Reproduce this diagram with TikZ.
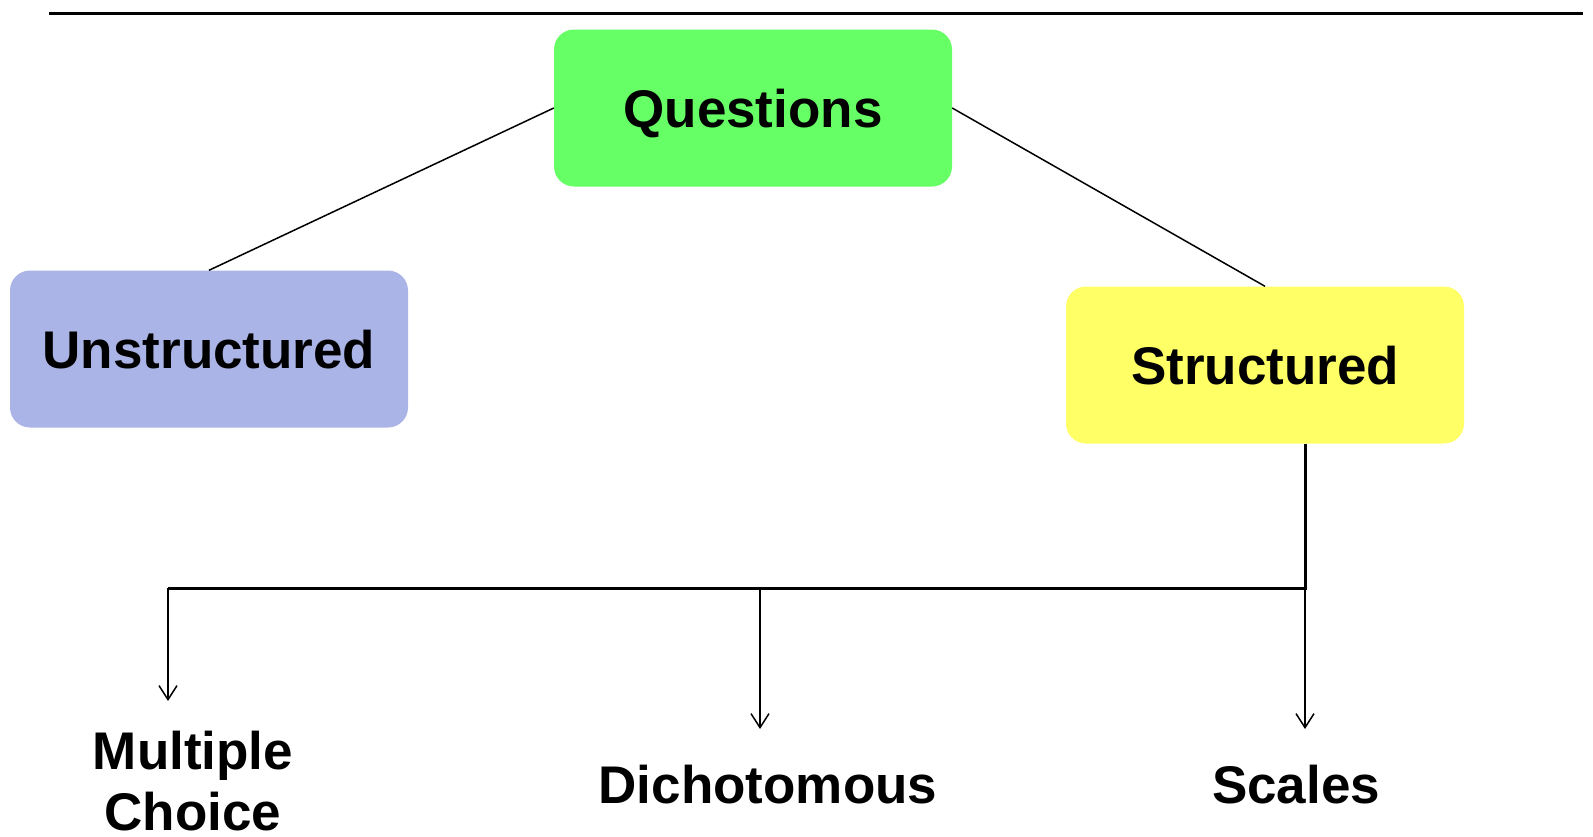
\documentclass[tikz,border=0pt]{standalone}
\usepackage{fontspec}
\setmainfont{Liberation Sans}
\usetikzlibrary{arrows.meta}

\definecolor{qgreen}{RGB}{102,255,102}
\definecolor{ublue}{RGB}{170,180,230}
\definecolor{syellow}{RGB}{255,255,102}

\tikzset{
  box/.style={rounded corners=20pt, minimum width=398pt, minimum height=157pt,
    text height=38pt, text depth=0pt,
    font=\fontsize{53}{61}\selectfont\bfseries},
  lbl/.style={font=\fontsize{53}{61}\selectfont\bfseries, align=center, inner sep=0pt},
  link/.style={line width=1.5pt},
  bar/.style={line width=3pt},
  arr/.style={line width=1.5pt, -{Straight Barb[length=14pt,width=18pt,line width=1.5pt]}}
}

\begin{document}
\begin{tikzpicture}[x=1pt,y=-1pt]
\useasboundingbox (0,0) rectangle (1593,836);
\draw[line width=3pt] (49,13) -- (1583,13);

\node[box,fill=qgreen] (quest) at (753,108) {Questions};
\node[box,fill=ublue] (unstr) at (209,349) {Unstructured};
\node[box,fill=syellow] (struc) at (1265,365) {Structured};

\draw[link] (quest.west) -- (unstr.north);
\draw[link] (quest.east) -- (struc.north);

\coordinate (jn) at (1305,588);
\coordinate (jl) at (168,588);
\coordinate (jm) at (760,588);
\draw[bar] (struc.south -| jn) -- (jn) -- (jl);

\node[lbl,anchor=base] (mc) at (193,830) {Multiple\\Choice};
\node[lbl,anchor=base] (dich) at (768,803) {Dichotomous};
\node[lbl,anchor=base] (scal) at (1296,803) {Scales};

\coordinate (tl) at (168,701);
\coordinate (tm) at (760,729);
\coordinate (tr) at (1305,729);
\draw[arr] (jl) -- (tl);
\draw[arr] (jm) -- (tm);
\draw[arr] (jn) -- (tr);
\end{tikzpicture}
\end{document}
